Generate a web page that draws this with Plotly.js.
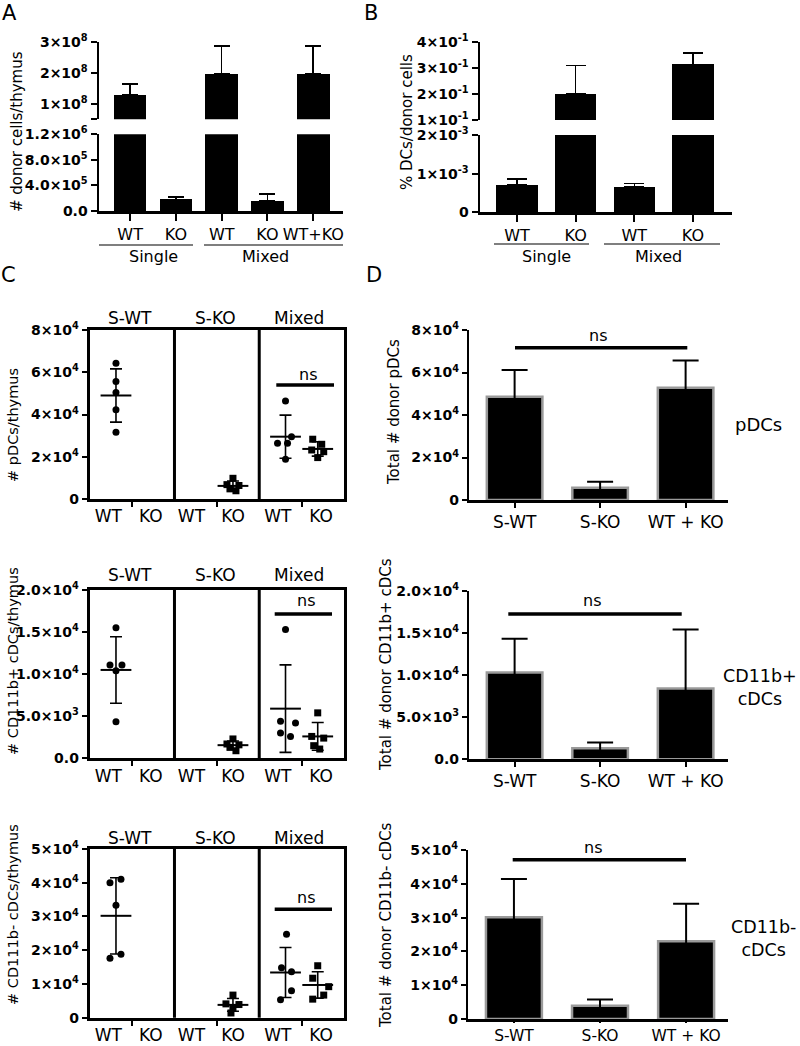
<!DOCTYPE html>
<html><head><meta charset="utf-8">
<script src="https://cdn.plot.ly/plotly-3.0.1.min.js"></script>
<style>html,body{margin:0;padding:0;background:#fff}</style>
</head><body><div id="chart" style="width:800px;height:1046px"></div>
<script>
// ---------------- DATA ----------------
// Panel A
const aLabels = ['WT','KO','WT','KO','WT+KO'];
const aGroups = ['Single','Mixed'];
const aDonorCells = [1.28e8, 1.82e5, 1.95e8, 1.6e5, 1.95e8];
const aDonorCellsErr = [0.36e8, 0.41e5, 0.91e8, 1.1e5, 0.91e8];
// Panel B
const bLabels = ['WT','KO','WT','KO'];
const bDcPct = [7.06e-4, 0.201, 6.47e-4, 0.315];
const bDcPctErr = [1.5e-4, 0.11, 1.0e-4, 0.043];
// Panel C
const cPanels = ['S-WT','S-KO','Mixed'];
const cColumns = ['WT','KO','WT','KO','WT','KO'];
const pdcSWT = [6.43e4, 5.56e4, 5.04e4, 4.22e4, 3.16e4];
const pdcSKO = [9.8e3, 6.8e3, 6.4e3, 4.8e3, 3.9e3];
const pdcMixWT = [4.64e4, 2.95e4, 2.64e4, 2.64e4, 1.88e4];
const pdcMixKO = [2.83e4, 2.59e4, 2.32e4, 2.24e4, 1.96e4];
const pdcMean = [4.9e4, 6.2e3, 2.95e4, 2.37e4];
const pdcSD = [1.26e4, 2.3e3, 1.02e4, 3.4e3];
const posSWT = [1.55e4, 1.11e4, 1.11e4, 1.04e4, 4.35e3];
const posSKO = [2.3e3, 1.7e3, 1.6e3, 1.3e3, 0.9e3];
const posMixWT = [1.53e4, 4.4e3, 4.2e3, 3.0e3, 2.6e3];
const posMixKO = [5.4e3, 2.6e3, 2.4e3, 1.5e3, 1.1e3];
const posMean = [1.05e4, 1.56e3, 5.9e3, 2.6e3];
const posSD = [3.95e3, 0.5e3, 5.2e3, 1.65e3];
const negSWT = [4.0e4, 4.1e4, 3.33e4, 1.76e4, 1.88e4];
const negSKO = [6.7e3, 4.1e3, 3.9e3, 2.8e3, 1.4e3];
const negMixWT = [2.47e4, 1.48e4, 1.36e4, 8.0e3, 5.3e3];
const negMixKO = [1.54e4, 1.17e4, 9.2e3, 6.7e3, 5.5e3];
const negMean = [3.02e4, 3.8e3, 1.34e4, 9.7e3];
const negSD = [1.13e4, 1.9e3, 7.4e3, 3.9e3];
// Panel D
const dLabels = ['S-WT','S-KO','WT + KO'];
const dPdc = [4.86e4, 5.8e3, 5.28e4];
const dPdcErr = [1.26e4, 2.8e3, 1.29e4];
const dPos = [1.03e4, 1.3e3, 8.4e3];
const dPosErr = [4.0e3, 0.7e3, 7.0e3];
const dNeg = [3.01e4, 3.9e3, 2.3e4];
const dNegErr = [1.13e4, 1.9e3, 1.11e4];

// ---------------- LAYOUT HELPERS ----------------
const W = 800, H = 1046;
const px = x => x / W;
const py = y => 1 - y / H;
const dx = (a, b) => [a / W, b / W];
const dy = (top, bottom) => [1 - bottom / H, 1 - top / H];
const FONT = 'DejaVu Sans';
const TICKFONT = {family: FONT, size: 14, color: '#000', weight: 'bold'};
const sup = (m, e) => m + '×10<sup>' + e + '</sup>';
// dot-plot jitter (pixels) and column placement
const CPANEL_PX = 84.8;
const cColPos = [0.31, 1.69, 2.31, 2.69];
const cLabelPos = [0.22, 0.72, 1.2, 1.69, 2.22, 2.73];
const jitPdc = [[0,0,0,0,0],[0,-6,6,-3,3],[0,6,-8,2,0],[-5,4,-6,6,0]];
const jitPos = [[0,-6,6,0,0],[0,-6,6,-3,3],[0,-5,10,-5,5],[0,-6,6,-4,2]];
const jitNeg = [[-6,5,0,-6,5],[0,-7,6,0,-2],[1,-4,6,6,-5],[0,-5,11,6,-5]];

const traces = [];

// ---- split-axis bar panels (A, B) ----
function splitBars(xa, yUp, yLow, vals, errs, splitVal, width, capW) {
  const xs = vals.map((_, i) => i);
  const mk = (ya, upper) => ({
    type: 'bar', xaxis: xa, yaxis: ya, x: xs, y: vals, width: width,
    marker: {color: '#000', line: {width: 0}}, hoverinfo: 'skip', showlegend: false,
    error_y: {type: 'data', symmetric: false, visible: true,
      array: vals.map((v, i) => ((v > splitVal) === upper) ? errs[i] : NaN),
      arrayminus: vals.map(v => ((v > splitVal) === upper) ? 0 : NaN),
      width: capW, thickness: 1.6, color: '#000'}
  });
  traces.push(mk(yUp, true), mk(yLow, false));
}
splitBars('x', 'y', 'y2', aDonorCells, aDonorCellsErr, 1.2e6, 0.71, 8);
splitBars('x2', 'y3', 'y4', bDcPct, bDcPctErr, 2e-3, 0.7, 10);

// ---- dot plots (C) ----
function cRow(xa, ya, groups, means, sds, jit) {
  const symbols = ['circle', 'square', 'circle', 'square'];
  groups.forEach((vals, g) => {
    traces.push({type: 'scatter', mode: 'markers', xaxis: xa, yaxis: ya,
      x: vals.map((v, i) => cColPos[g] + jit[g][i] / CPANEL_PX), y: vals,
      marker: {symbol: symbols[g], size: 7, color: '#000', line: {width: 0}},
      hoverinfo: 'skip', showlegend: false, cliponaxis: false});
  });
  traces.push({type: 'scatter', mode: 'markers', xaxis: xa, yaxis: ya, x: cColPos, y: means,
    marker: {symbol: 'line-ew', size: 22, color: '#000', line: {width: 2, color: '#000'}},
    error_y: {type: 'data', array: sds, visible: true, width: 6, thickness: 1.6, color: '#000'},
    hoverinfo: 'skip', showlegend: false, cliponaxis: false});
}
cRow('x3', 'y5', [pdcSWT, pdcSKO, pdcMixWT, pdcMixKO], pdcMean, pdcSD, jitPdc);
cRow('x4', 'y6', [posSWT, posSKO, posMixWT, posMixKO], posMean, posSD, jitPos);
cRow('x5', 'y7', [negSWT, negSKO, negMixWT, negMixKO], negMean, negSD, jitNeg);

// ---- bar plots (D) ----
function dBars(xa, ya, vals, errs) {
  traces.push({type: 'bar', xaxis: xa, yaxis: ya, x: vals.map((_, i) => i), y: vals, width: 0.65,
    marker: {color: '#000', line: {color: '#9a9a9a', width: 2.5}}, hoverinfo: 'skip', showlegend: false,
    error_y: {type: 'data', array: errs, visible: true, width: 13, thickness: 2, color: '#000'}});
}
dBars('x6', 'y8', dPdc, dPdcErr);
dBars('x7', 'y9', dPos, dPosErr);
dBars('x8', 'y10', dNeg, dNegErr);

// ---------------- AXES ----------------
const baseAxis = {showgrid: false, zeroline: false, showline: true, linecolor: '#000', linewidth: 2.5,
  ticks: 'outside', tickcolor: '#000', tickwidth: 2, fixedrange: true};
function yAx(domain, range, vals, text, anchor, len, extra) {
  return Object.assign({}, baseAxis, {domain, range, tickmode: 'array', tickvals: vals, ticktext: text,
    anchor, ticklen: len || 6, tickfont: TICKFONT}, extra || {});
}
function xCat(domain, range, labels, anchor, size, extra) {
  return Object.assign({}, baseAxis, {domain, range, tickmode: 'array',
    tickvals: labels.map((_, i) => i), ticktext: labels, anchor, ticklen: 6,
    tickfont: {family: FONT, size: size, color: '#000'}}, extra || {});
}

const layout = {
  width: W, height: H, margin: {l: 0, r: 0, t: 0, b: 0},
  paper_bgcolor: '#fff', plot_bgcolor: 'rgba(0,0,0,0)', showlegend: false, bargap: 0,
  // Panel A
  xaxis: xCat(dx(99, 343), [-0.68, 4.65], aLabels, 'y2', 16, {ticklen: 7}),
  yaxis: yAx(dy(41.7, 119.3), [0.5e8, 3e8], [0.5e8, 1e8, 2e8, 3e8], ['', sup(1, 8), sup(2, 8), sup(3, 8)], 'x'),
  yaxis2: yAx(dy(134.3, 211), [0, 1.2e6], [0, 4e5, 8e5, 1.2e6], ['0.0', sup('4.0', 5), sup('8.0', 5), sup('1.2', 6)], 'x'),
  // Panel B
  xaxis2: xCat(dx(480, 731.7), [-0.63, 3.66], bLabels, 'y4', 16, {ticklen: 7}),
  yaxis3: yAx(dy(42.3, 120), [0.1, 0.4], [0.1, 0.2, 0.3, 0.4], [sup(1, '-1'), sup(2, '-1'), sup(3, '-1'), sup(4, '-1')], 'x2'),
  yaxis4: yAx(dy(135, 212.3), [0, 2e-3], [0, 1e-3, 2e-3], ['0', sup(1, '-3'), sup(2, '-3')], 'x2'),
};
// Panel C axes
const cX = (anchor) => Object.assign({}, baseAxis, {domain: dx(89.7, 344), range: [0, 3], anchor,
  linewidth: 3, mirror: true, tickmode: 'array', tickvals: cLabelPos, ticktext: cColumns, ticks: '',
  tickfont: {family: FONT, size: 17, color: '#000'},
  minor: {tickmode: 'array', tickvals: [0.5, 1.5, 2.5], ticks: 'outside', ticklen: 5, tickwidth: 2, tickcolor: '#000'}});
layout.xaxis3 = cX('y5');
layout.xaxis4 = cX('y6');
layout.xaxis5 = cX('y7');
layout.yaxis5 = yAx(dy(330, 499), [0, 8e4], [0, 2e4, 4e4, 6e4, 8e4], ['0', sup(2, 4), sup(4, 4), sup(6, 4), sup(8, 4)], 'x3', 5, {mirror: true, linewidth: 3});
layout.yaxis6 = yAx(dy(590, 758.3), [0, 2e4], [0, 5e3, 1e4, 1.5e4, 2e4], ['0.0', sup('5.0', 3), sup('1.0', 4), sup('1.5', 4), sup('2.0', 4)], 'x4', 5, {mirror: true, linewidth: 3});
layout.yaxis7 = yAx(dy(849, 1017.7), [0, 5e4], [0, 1e4, 2e4, 3e4, 4e4, 5e4], ['0', sup(1, 4), sup(2, 4), sup(3, 4), sup(4, 4), sup(5, 4)], 'x5', 5, {mirror: true, linewidth: 3});
// Panel D axes
layout.xaxis6 = xCat(dx(469.3, 727.5), [-0.53, 2.49], dLabels, 'y8', 17, {ticklen: 5});
layout.xaxis7 = xCat(dx(469.3, 727.5), [-0.53, 2.49], dLabels, 'y9', 17, {ticklen: 5});
layout.xaxis8 = xCat(dx(468.3, 728.3), [-0.53, 2.49], dLabels, 'y10', 15.5, {ticklen: 1});
layout.yaxis8 = yAx(dy(330, 500), [0, 8e4], [0, 2e4, 4e4, 6e4, 8e4], ['0', sup(2, 4), sup(4, 4), sup(6, 4), sup(8, 4)], 'x6', 5);
layout.yaxis9 = yAx(dy(590.7, 759.3), [0, 2e4], [0, 5e3, 1e4, 1.5e4, 2e4], ['0.0', sup('5.0', 3), sup('1.0', 4), sup('1.5', 4), sup('2.0', 4)], 'x7', 5);
layout.yaxis10 = yAx(dy(850, 1019), [0, 5e4], [0, 1e4, 2e4, 3e4, 4e4, 5e4], ['0', sup(1, 4), sup(2, 4), sup(3, 4), sup(4, 4), sup(5, 4)], 'x8', 5);

// ---------------- SHAPES ----------------
const hline = (x0, x1, y, w) => ({type: 'line', xref: 'paper', yref: 'paper', x0: px(x0), x1: px(x1), y0: py(y), y1: py(y), line: {color: '#000', width: w}});
const shapes = [
  hline(99, 193, 245, 1.2), hline(204, 343, 245, 1.2),
  hline(494, 589, 244, 1.2), hline(604, 720, 244, 1.2),
  // ns bars C
  hline(276.3, 334, 385, 3.5), hline(274.7, 332, 614, 3.5), hline(274.7, 332, 909.3, 3.5),
  // ns bars D
  hline(515, 687.3, 347.7, 3.5), hline(508.3, 681.7, 614, 3.5), hline(512.7, 686, 859.7, 3.5)
];
// panel dividers in C
[['x3', 'y5'], ['x4', 'y6'], ['x5', 'y7']].forEach(([xa, ya]) => {
  [1, 2].forEach(v => shapes.push({type: 'line', xref: xa, yref: ya + ' domain', x0: v, x1: v, y0: 0, y1: 1, line: {color: '#000', width: 3}}));
});
layout.shapes = shapes;

// ---------------- ANNOTATIONS ----------------
function ann(text, x, y, size, opts) {
  return Object.assign({text, x: px(x), y: py(y), xref: 'paper', yref: 'paper', showarrow: false,
    xanchor: 'center', yanchor: 'middle', font: {family: FONT, size, color: '#000'}}, opts || {});
}
const anns = [
  ann('A', 9, 13, 21), ann('B', 371, 13, 21), ann('C', 8, 275, 21), ann('D', 374, 275, 21),
  ann(aGroups[0], 153, 256, 16), ann(aGroups[1], 265, 256, 16),
  ann(aGroups[0], 546, 256, 16), ann(aGroups[1], 658, 256, 16),
  ann('# donor cells/thymus', 17, 132, 15, {textangle: -90}),
  ann('% DCs/donor cells', 407, 122, 15, {textangle: -90}),
  ann('# pDCs/thymus', 13, 425, 14.5, {textangle: -90}),
  ann('# CD111b+ cDCs/thymus', 13, 661, 14.5, {textangle: -90}),
  ann('# CD111b- cDCs/thymus', 13, 915, 14.5, {textangle: -90}),
  ann('Total # donor pDCs', 394, 412, 15, {textangle: -90}),
  ann('Total # donor CD11b+ cDCs', 386, 665, 15, {textangle: -90}),
  ann('Total # donor CD11b- cDCs', 386, 925, 15, {textangle: -90}),
  ann('ns', 308, 374.3, 16), ann('ns', 306.3, 600, 16), ann('ns', 306.3, 897.7, 16),
  ann('ns', 598.3, 335, 16), ann('ns', 592.3, 600, 16), ann('ns', 592.7, 847.7, 16),
  ann('pDCs', 758, 425, 18), ann('CD11b+<br>cDCs', 760, 687, 17.5), ann('CD11b-<br>cDCs', 763, 938, 17.5)
];
[318, 575, 838].forEach(y => {
  [130, 215, 299].forEach((x, i) => anns.push(ann(cPanels[i], x, y, 17)));
});
layout.annotations = anns;

Plotly.newPlot('chart', traces, layout, {displayModeBar: false, staticPlot: true});
</script>
</body></html>
